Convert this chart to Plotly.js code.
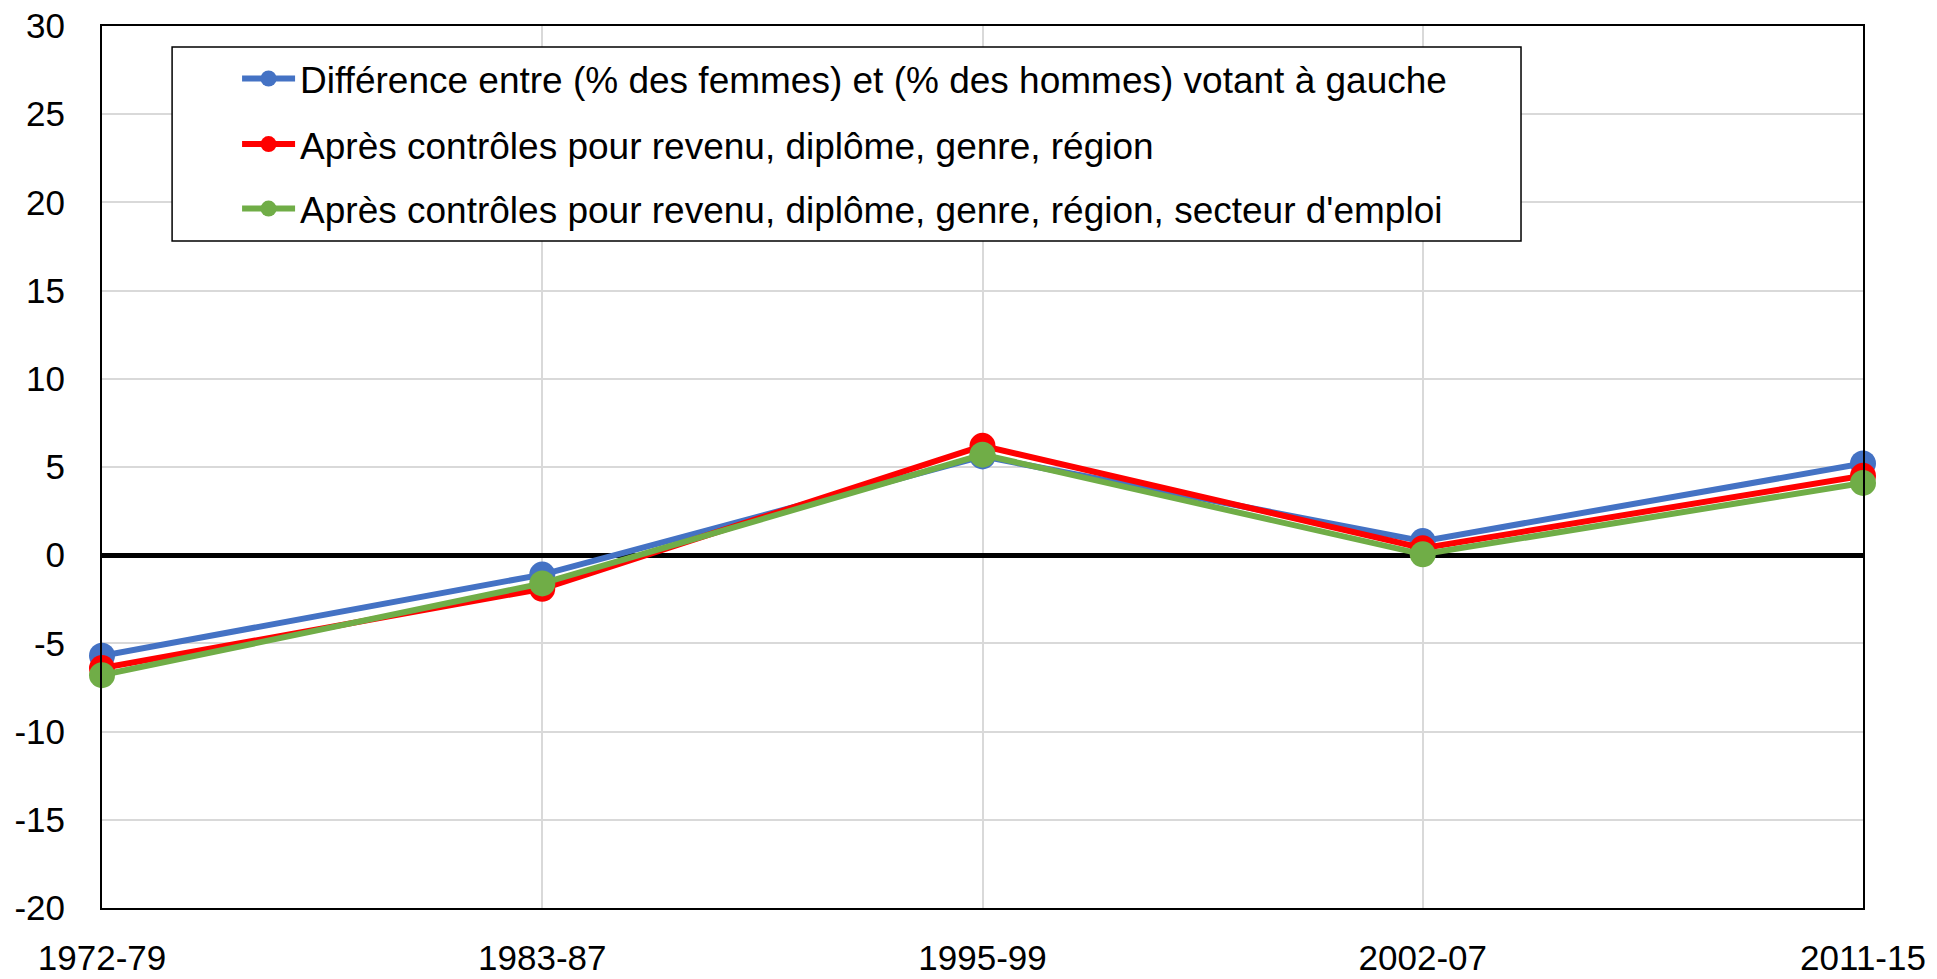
<!DOCTYPE html>
<html>
<head>
<meta charset="utf-8">
<script src="https://cdn.plot.ly/plotly-3.0.1.min.js"></script>
<style>html,body{margin:0;padding:0;background:#fff;}#chart{width:1937px;height:979px;}</style>
</head>
<body>
<div id="chart"></div>
<script>
const periods = ["1972-79", "1983-87", "1995-99", "2002-07", "2011-15"];
const diffBrute = [-5.7, -1.1, 5.6, 0.8, 5.2];
const apresControles1 = [-6.4, -1.9, 6.2, 0.4, 4.5];
const apresControles2 = [-6.8, -1.6, 5.7, 0.05, 4.1];
const seriesNames = [
  "Différence entre (% des femmes) et (% des hommes) votant à gauche",
  "Après contrôles pour revenu, diplôme, genre, région",
  "Après contrôles pour revenu, diplôme, genre, région, secteur d'emploi"
];
const seriesColors = ["#4472C4", "#FF0000", "#70AD47"];
const yTickVals = [-20, -15, -10, -5, 0, 5, 10, 15, 20, 25, 30];
const yTickText = ["-20", "-15", "-10", "-5", "0", "5", "10", "15", "20", "25", "30"];

const FONT = "Liberation Sans, Arial, sans-serif";
const seriesData = [diffBrute, apresControles1, apresControles2];
const legendIds = ["legend", "legend2", "legend3"];
const traces = seriesData.map((vals, i) => ({
  type: "scatter",
  mode: "lines+markers",
  x: periods,
  y: vals,
  name: seriesNames[i],
  legend: legendIds[i],
  cliponaxis: false,
  line: {color: seriesColors[i], width: 6},
  marker: {color: seriesColors[i], size: 26},
  hoverinfo: "x+y"
}));

const legendYs = [0.940, 0.8656, 0.7925];
function mkLegend(y) {
  return {
    x: 0.0767, xanchor: "left", y: y, yanchor: "middle",
    bgcolor: "rgba(0,0,0,0)", borderwidth: 0,
    font: {family: FONT, size: 37, color: "#000"},
    itemwidth: 53
  };
}

const layout = {
  width: 1937, height: 979,
  margin: {l: 102, r: 74, t: 26, b: 71},
  paper_bgcolor: "#fff", plot_bgcolor: "#fff",
  font: {family: FONT, size: 35, color: "#000"},
  showlegend: true,
  legend: mkLegend(legendYs[0]),
  legend2: mkLegend(legendYs[1]),
  legend3: mkLegend(legendYs[2]),
  xaxis: {
    type: "category",
    range: [0, 4],
    showgrid: true, gridcolor: "#d9d9d9", gridwidth: 1.5,
    showline: true, linecolor: "#000", linewidth: 2, mirror: true,
    ticks: "", ticklabelstandoff: 18,
    tickfont: {family: FONT, size: 35, color: "#000"},
    zeroline: false
  },
  yaxis: {
    range: [-20, 30],
    tickvals: yTickVals, ticktext: yTickText,
    showgrid: true, gridcolor: "#d9d9d9", gridwidth: 1.5,
    showline: true, linecolor: "#000", linewidth: 2, mirror: true,
    zeroline: true, zerolinecolor: "#000", zerolinewidth: 5,
    ticks: "", ticklabelstandoff: 28,
    tickfont: {family: FONT, size: 35, color: "#000"}
  },
  shapes: [{
    type: "rect", xref: "paper", yref: "paper",
    x0: 0.0398, x1: 0.8058, y0: 0.7562, y1: 0.9762,
    line: {color: "#000", width: 1.5}, fillcolor: "#fff", layer: "above"
  }]
};

Plotly.newPlot("chart", traces, layout, {displayModeBar: false});
</script>
</body>
</html>
